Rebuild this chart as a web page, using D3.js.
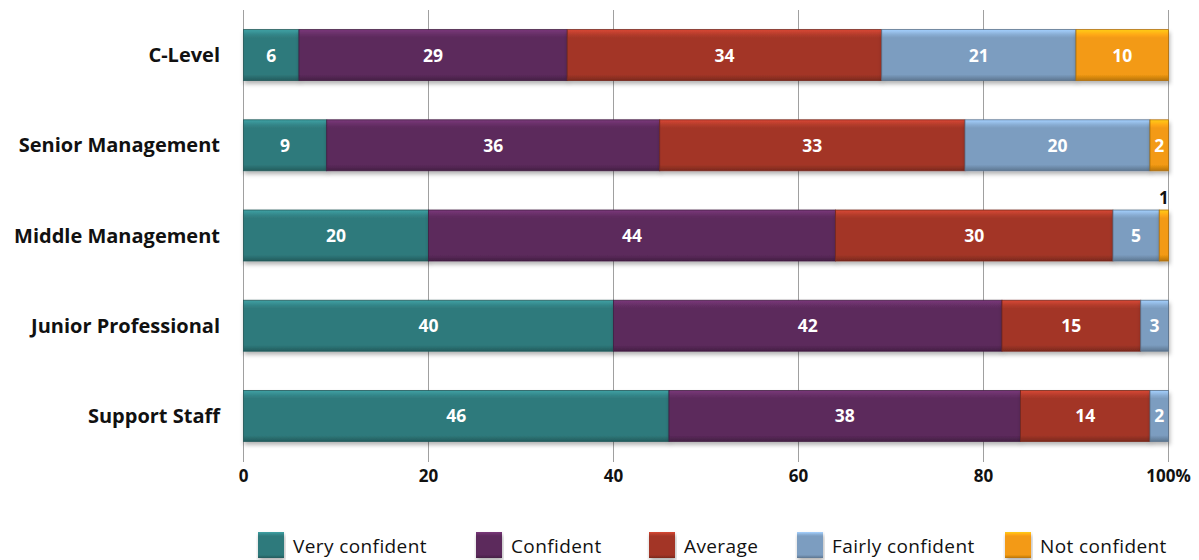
<!DOCTYPE html>
<html><head><meta charset="utf-8">
<script src="https://cdn.jsdelivr.net/npm/d3@7/dist/d3.min.js"></script>
<style>
html,body{margin:0;padding:0;background:#fff;}
svg{display:block;font-family:"Open Sans",Lato,sans-serif;}
</style></head><body>
<svg id="chart" width="1199" height="560"></svg>
<script>
const categories = ["C-Level","Senior Management","Middle Management","Junior Professional","Support Staff"];
const seriesNames = ["Very confident","Confident","Average","Fairly confident","Not confident"];
const seriesColors = ["#2f7a7c","#5c2a5c","#a33627","#7c9dc0","#f39a12"];
const veryConfident   = [6, 9, 20, 40, 46];
const confident       = [29, 36, 44, 42, 38];
const average         = [34, 33, 30, 15, 14];
const fairlyConfident = [21, 20, 5, 3, 2];
const notConfident    = [10, 2, 1, 0, 0];
const tickValues = [0,20,40,60,80,100];
const tickLabels = ["0","20","40","60","80","100%"];

const seriesValues = [veryConfident, confident, average, fairlyConfident, notConfident];
const rows = categories.map((c,i)=>{
  const o={category:c};
  seriesNames.forEach((s,j)=>o[s]=seriesValues[j][i]);
  return o;
});

const svg = d3.select("#chart");
const x = d3.scaleLinear().domain([0,100]).range([243.5,1168.5]);
const y = d3.scaleBand().domain(categories).range([10,461]).paddingInner(0.435).paddingOuter(0.2175);

const defs = svg.append("defs");
seriesColors.forEach((c,i)=>{
  const g = defs.append("linearGradient").attr("id","g"+i).attr("x1",0).attr("y1",0).attr("x2",0).attr("y2",1);
  const base = d3.color(c);
  g.append("stop").attr("offset","0%").attr("stop-color",base.brighter(0.8));
  g.append("stop").attr("offset","10%").attr("stop-color",base.brighter(0.25));
  g.append("stop").attr("offset","16%").attr("stop-color",c);
  g.append("stop").attr("offset","88%").attr("stop-color",c);
  g.append("stop").attr("offset","100%").attr("stop-color",base.darker(0.8));
});
const f = defs.append("filter").attr("id","shadow").attr("x","-5%").attr("y","-20%").attr("width","110%").attr("height","160%");
f.append("feDropShadow").attr("dx",1).attr("dy",3).attr("stdDeviation",2).attr("flood-color","#000").attr("flood-opacity",0.3);

// gridlines
svg.append("g").selectAll("line").data(tickValues).join("line")
  .attr("x1",d=>x(d)).attr("x2",d=>x(d)).attr("y1",10).attr("y2",462)
  .attr("stroke","#a0a0a0").attr("stroke-width",1).attr("shape-rendering","crispEdges");

// tick labels
svg.append("g").selectAll("text").data(tickValues).join("text")
  .attr("x",d=>x(d)).attr("y",482)
  .attr("text-anchor","middle").attr("font-size",17).attr("font-weight",700).attr("fill","#111")
  .text((d,i)=>tickLabels[i]);

// category labels
svg.append("g").selectAll("text").data(categories).join("text")
  .attr("x",220).attr("y",d=>y(d)+y.bandwidth()/2+7)
  .attr("text-anchor","end").attr("font-size",20).attr("font-weight",700).attr("fill","#111")
  .text(d=>d);

const stack = d3.stack().keys(seriesNames)(rows);
const gBars = svg.append("g");
stack.forEach((layer,j)=>{
  const g = gBars.append("g").attr("filter","url(#shadow)");
  g.selectAll("rect").data(layer.filter(d=>d[1]-d[0]>0)).join("rect")
    .attr("x",d=>x(d[0])).attr("width",d=>x(d[1])-x(d[0]))
    .attr("y",d=>y(d.data.category)).attr("height",y.bandwidth())
    .attr("fill","url(#g"+j+")")
    .attr("stroke",d3.color(seriesColors[j]).darker(0.9)).attr("stroke-width",0.8);
});
// labels
stack.forEach((layer,j)=>{
  layer.forEach(d=>{
    const v = d[1]-d[0];
    if(v<=0) return;
    const cx = (x(d[0])+x(d[1]))/2;
    const yy = y(d.data.category);
    if(v>=2){
      gBars.append("text").attr("x",cx).attr("y",yy+y.bandwidth()/2+6.5)
        .attr("text-anchor","middle").attr("font-size",17.5).attr("font-weight",700).attr("fill","#fff")
        .text(v);
    } else {
      gBars.append("text").attr("x",cx).attr("y",yy-6)
        .attr("text-anchor","middle").attr("font-size",17).attr("font-weight",700).attr("fill","#111")
        .text(v);
    }
  });
});

// legend
const legendX = [258,476,649,797,1005];
const lg = svg.append("g");
seriesNames.forEach((s,j)=>{
  lg.append("rect").attr("x",legendX[j]).attr("y",532).attr("width",26).attr("height",26)
    .attr("fill","url(#g"+j+")").attr("filter","url(#shadow)");
  lg.append("text").attr("x",legendX[j]+35).attr("y",553)
    .attr("font-size",19).attr("letter-spacing",0.4).attr("fill","#111").text(s);
});
</script>
</body></html>
